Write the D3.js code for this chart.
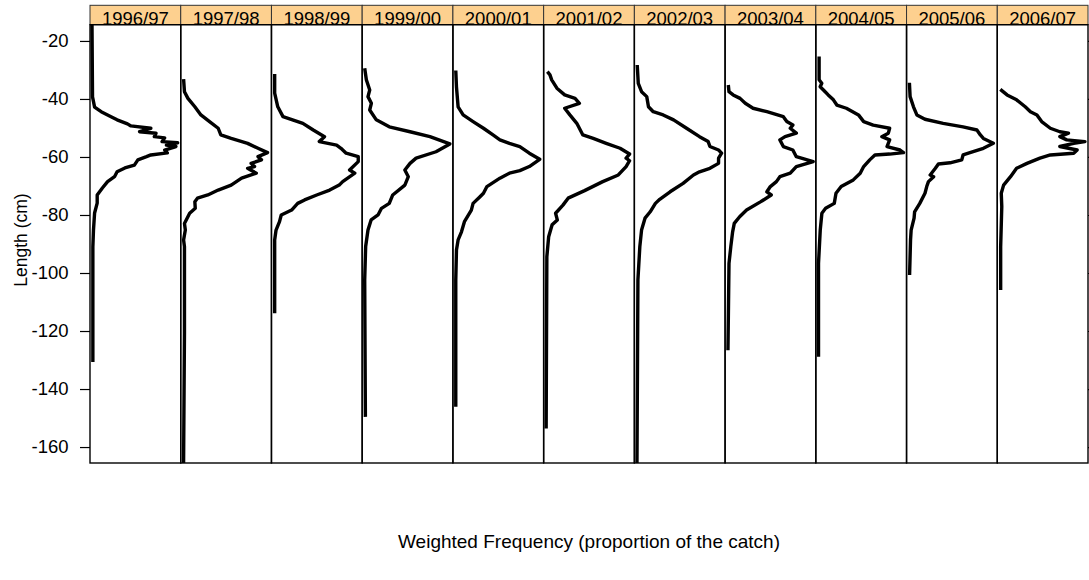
<!DOCTYPE html>
<html>
<head>
<meta charset="utf-8">
<script src="https://cdn.jsdelivr.net/npm/d3@7"></script>
<style>
  body { margin: 0; background: #fff; }
  svg { display: block; font-family: "Liberation Sans", Arial, sans-serif; }
</style>
</head>
<body>
<svg id="chart" width="1089" height="580"></svg>
<script>
// ---- data (length in cm as negative values, relative weighted frequency) ----
const seasons = ["1996/97","1997/98","1998/99","1999/00","2000/01","2001/02","2002/03","2003/04","2004/05","2005/06","2006/07"];
const yTicks = [-20,-40,-60,-80,-100,-120,-140,-160];

const len9697 = [-14.5,-39.3,-42.8,-44.4,-46.1,-47.2,-48.6,-49.3,-50.1,-51.3,-51.8,-53.0,-53.4,-54.7,-55.1,-55.9,-56.4,-57.6,-58.6,-59.3,-59.9,-61.0,-62.8,-63.8,-65.1,-66.8,-68.5,-70.7,-73.1,-75.9,-79.3,-85.2,-91.0,-130.7];
const frq9697 = [0.0,0.006,0.03,0.106,0.22,0.29,0.41,0.45,0.68,0.55,0.74,0.72,0.84,0.81,0.99,0.86,0.97,0.84,0.87,0.68,0.63,0.53,0.49,0.38,0.29,0.26,0.18,0.12,0.06,0.06,0.03,0.017,0.01,0.01];

const len9798 = [-33.2,-37.5,-39.8,-42.7,-45.5,-47.8,-50.1,-52.4,-53.6,-55.3,-57.0,-58.5,-59.9,-61.0,-62.2,-63.3,-63.9,-65.6,-67.3,-69.7,-71.4,-73.1,-74.2,-75.4,-77.7,-79.4,-82.9,-85.2,-88.6,-90.9,-120.7,-165.5];
const frq9798 = [0.01,0.02,0.06,0.14,0.21,0.31,0.41,0.44,0.56,0.75,0.87,0.98,0.87,0.91,0.79,0.83,0.75,0.85,0.68,0.56,0.41,0.29,0.17,0.14,0.145,0.08,0.02,0.03,0.01,0.02,0.02,0.01];

const len9899 = [-31.4,-38.0,-42.7,-46.1,-48.4,-50.7,-53.0,-54.7,-55.9,-57.0,-58.7,-59.9,-61.6,-64.5,-65.6,-68.5,-69.7,-71.4,-73.1,-74.8,-76.0,-78.3,-80.0,-82.3,-85.2,-88.6,-113.9];
const frq9899 = [0.014,0.014,0.05,0.11,0.34,0.46,0.59,0.53,0.73,0.78,0.84,0.98,0.98,0.88,0.94,0.80,0.76,0.65,0.50,0.36,0.28,0.21,0.09,0.07,0.03,0.014,0.014];

const len9900 = [-29.4,-33.4,-36.9,-39.2,-41.5,-43.8,-47.2,-49.6,-51.3,-53.0,-55.5,-58.2,-60.4,-62.2,-64.5,-66.8,-69.7,-73.1,-76.0,-77.7,-80.0,-81.7,-85.2,-90.9,-102.4,-149.6];
const frq9900 = [0.006,0.025,0.064,0.044,0.083,0.064,0.14,0.29,0.53,0.76,0.99,0.83,0.60,0.53,0.47,0.51,0.47,0.33,0.29,0.20,0.16,0.08,0.044,0.017,0.006,0.014];

const len0001 = [-30.2,-35.8,-42.7,-45.5,-47.8,-50.1,-52.4,-54.1,-55.3,-56.4,-58.7,-60.8,-63.3,-64.7,-65.6,-67.3,-70.2,-72.5,-73.7,-76.0,-78.3,-82.3,-85.8,-88.6,-92.1,-102.4,-146.1];
const frq0001 = [0.01,0.018,0.037,0.095,0.21,0.33,0.44,0.52,0.63,0.75,0.86,0.98,0.86,0.75,0.63,0.52,0.37,0.33,0.29,0.21,0.19,0.11,0.076,0.037,0.018,0.01,0.01];

const len0102 = [-30.6,-31.7,-33.4,-36.3,-38.6,-39.8,-41.5,-43.2,-45.5,-48.4,-50.1,-52.4,-53.6,-55.3,-57.0,-59.0,-60.4,-61.3,-63.3,-66.2,-68.5,-71.6,-74.2,-76.6,-79.4,-81.7,-83.4,-87.5,-94.4,-153.6];
const frq0102 = [0.02,0.05,0.07,0.13,0.22,0.34,0.39,0.22,0.28,0.36,0.39,0.43,0.55,0.70,0.86,0.97,0.93,0.97,0.93,0.84,0.66,0.45,0.26,0.20,0.115,0.135,0.075,0.035,0.014,0.006];

const len0203 = [-28.3,-34.6,-37.5,-39.2,-42.7,-44.4,-45.5,-47.2,-50.1,-53.0,-54.7,-56.4,-57.6,-58.7,-60.4,-62.2,-63.9,-65.1,-66.2,-69.1,-72.0,-74.6,-76.0,-78.9,-81.1,-85.2,-90.9,-102.4,-165.5];
const frq0203 = [0.01,0.022,0.06,0.12,0.14,0.195,0.31,0.43,0.58,0.73,0.83,0.85,0.95,0.985,0.95,0.95,0.85,0.73,0.66,0.54,0.39,0.27,0.22,0.16,0.10,0.06,0.04,0.018,0.007];

const len0304 = [-35.2,-37.5,-38.6,-39.8,-41.5,-43.2,-44.4,-46.1,-47.8,-49.0,-50.1,-51.8,-53.0,-54.1,-56.4,-57.6,-59.9,-61.6,-63.3,-65.6,-66.8,-68.5,-70.2,-72.0,-73.1,-75.4,-78.3,-80.6,-82.9,-85.8,-90.9,-96.7,-126.6];
const frq0304 = [0.014,0.022,0.07,0.15,0.21,0.30,0.46,0.65,0.69,0.76,0.73,0.80,0.67,0.61,0.65,0.76,0.80,0.995,0.80,0.73,0.61,0.57,0.50,0.46,0.51,0.39,0.225,0.145,0.083,0.064,0.043,0.022,0.01];

const len0405 = [-25.4,-33.4,-34.6,-35.8,-36.9,-38.6,-40.3,-42.1,-43.2,-45.5,-47.8,-49.0,-50.1,-51.8,-53.0,-54.1,-56.4,-57.6,-58.5,-59.0,-59.3,-61.0,-63.3,-65.6,-67.9,-70.2,-72.5,-76.0,-77.7,-79.4,-85.2,-96.7,-128.9];
const frq0405 = [0.015,0.015,0.046,0.027,0.065,0.12,0.18,0.22,0.33,0.47,0.53,0.64,0.83,0.815,0.74,0.83,0.80,0.95,0.99,0.83,0.66,0.60,0.53,0.49,0.41,0.27,0.21,0.19,0.09,0.047,0.028,0.008,0.008];

const len0506 = [-34.4,-39.2,-42.7,-45.5,-47.0,-48.4,-49.6,-50.7,-52.4,-53.6,-55.3,-57.0,-58.5,-59.3,-61.0,-62.0,-62.4,-63.9,-66.2,-66.8,-68.5,-70.2,-72.5,-76.0,-78.9,-81.1,-85.2,-88.6,-100.7];
const frq0506 = [0.01,0.018,0.057,0.096,0.19,0.40,0.63,0.79,0.83,0.865,0.98,0.865,0.71,0.63,0.615,0.48,0.345,0.31,0.25,0.29,0.23,0.21,0.19,0.13,0.07,0.064,0.03,0.023,0.012];

const len0607 = [-36.7,-38.6,-40.3,-42.7,-44.4,-45.5,-47.8,-50.1,-51.3,-51.8,-53.0,-54.1,-54.7,-55.3,-56.4,-57.6,-58.7,-59.3,-60.4,-62.2,-63.9,-66.8,-69.7,-72.5,-77.1,-90.9,-105.9];
const frq0607 = [0.012,0.09,0.20,0.30,0.36,0.435,0.49,0.59,0.70,0.80,0.70,0.78,0.99,0.86,0.70,0.90,0.86,0.59,0.47,0.32,0.20,0.13,0.05,0.023,0.029,0.016,0.016];

const lengthsBySeason = [len9697,len9798,len9899,len9900,len0001,len0102,len0203,len0304,len0405,len0506,len0607];
const freqsBySeason   = [frq9697,frq9798,frq9899,frq9900,frq0001,frq0102,frq0203,frq0304,frq0405,frq0506,frq0607];

// ---- layout ----
const W = 1089, H = 580;
const plotLeft = 90, plotRight = 1088, plotTop = 24.7, plotBottom = 463, stripTop = 5.3;
const FONT = 18.5;

const svg = d3.select("#chart");
svg.append("rect").attr("width", W).attr("height", H).attr("fill", "#fff");

const panel = d3.scaleBand().domain(seasons).range([plotLeft, plotRight]).padding(0);
const y = d3.scaleLinear().domain([-165.5, -14.4]).range([plotBottom, plotTop]);
const pw = panel.bandwidth();

// strips
seasons.forEach(s => {
  const x0 = panel(s);
  svg.append("rect")
    .attr("x", x0).attr("y", stripTop).attr("width", pw).attr("height", plotTop - stripTop)
    .attr("fill", "#FDD08F").attr("stroke", "#333").attr("stroke-width", 1);
  svg.append("text")
    .attr("x", x0 + pw / 2).attr("y", plotTop + 0.3)
    .attr("text-anchor", "middle").attr("font-size", FONT).attr("fill", "#000")
    .text(s);
});

// panels and lines
const line = d3.line().curve(d3.curveLinear);
seasons.forEach((s, i) => {
  const x0 = panel(s);
  const x = d3.scaleLinear().domain([0, 1]).range([x0 + 2, x0 + pw - 2.2]);
  const lens = lengthsBySeason[i], fr = freqsBySeason[i];
  const pts = lens.map((L, k) => [x(fr[k]), y(L)]);
  svg.append("path")
    .attr("d", line(pts))
    .attr("fill", "none").attr("stroke", "#000").attr("stroke-width", 3.4)
    .attr("stroke-linejoin", "round").attr("stroke-linecap", "butt");
  svg.append("rect")
    .attr("x", x0).attr("y", plotTop).attr("width", pw).attr("height", plotBottom - plotTop)
    .attr("fill", "none").attr("stroke", "#000").attr("stroke-width", 1.4);
});

// left axis
const yAxis = d3.axisLeft(y).tickValues(yTicks).tickSize(10).tickPadding(11.5).tickFormat(d => String(d));
const gy = svg.append("g").attr("transform", `translate(${plotLeft},0)`).call(yAxis);
gy.select(".domain").remove();
gy.selectAll(".tick line").attr("stroke", "#000").attr("stroke-width", 1.2);
gy.selectAll(".tick text").attr("font-size", FONT).attr("fill", "#000")
  .attr("font-family", "'Liberation Sans', Arial, sans-serif");

// right axis ticks (no labels)
const yAxisR = d3.axisRight(y).tickValues(yTicks).tickSize(10).tickFormat("");
const gyr = svg.append("g").attr("transform", `translate(${plotRight},0)`).call(yAxisR);
gyr.select(".domain").remove();
gyr.selectAll(".tick line").attr("stroke", "#000").attr("stroke-width", 1.2);

// axis titles
svg.append("text")
  .attr("transform", `translate(27,240) rotate(-90)`)
  .attr("text-anchor", "middle").attr("font-size", 17.5).attr("fill", "#000")
  .text("Length (cm)");
svg.append("text")
  .attr("x", (plotLeft + plotRight) / 2).attr("y", 548)
  .attr("text-anchor", "middle").attr("font-size", 19).attr("fill", "#000")
  .text("Weighted Frequency (proportion of the catch)");
</script>
</body>
</html>
